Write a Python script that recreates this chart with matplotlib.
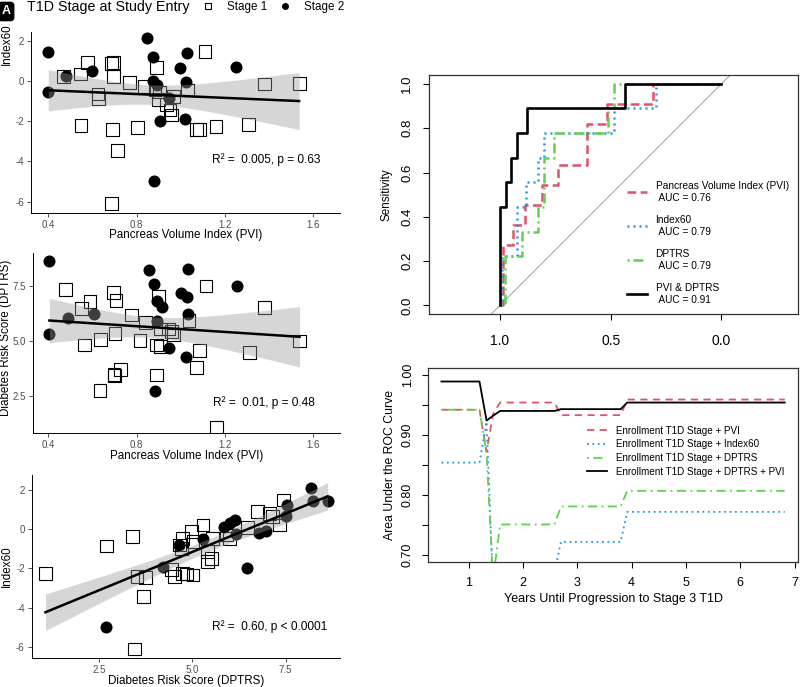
import numpy as np
import matplotlib
matplotlib.use('Agg')
import matplotlib.pyplot as plt
from matplotlib.lines import Line2D

plt.rcParams['font.family'] = ['Liberation Sans', 'DejaVu Sans']
plt.rcParams['axes.unicode_minus'] = False

# --- scatter panels: stage 1 = open squares, stage 2 = filled circles ---
# panel 1: PVI vs Index60
p1_sq_pvi = [0.468, 0.546, 0.578, 0.625, 0.628, 0.685, 0.695, 0.694, 0.767, 0.833, 0.891, 0.883,
             0.898, 0.936, 0.951, 0.958, 0.966, 1.031, 1.069, 1.084, 1.109, 1.159, 1.306, 1.377,
             1.535, 0.548, 0.690, 0.803, 0.712, 0.687, 0.905]
p1_sq_idx = [0.21, 0.35, 0.93, -0.65, -0.88, 0.85, 0.92, 0.21, -0.08, -0.28, 0.68, -0.45,
             -0.94, -1.19, -1.44, -1.69, -0.78, -0.45, -2.43, -2.43, 1.45, -2.26, -2.15, -0.15,
             -0.12, -2.21, -2.40, -2.30, -3.45, -6.10, -0.55]
p1_dot_pvi = [0.40, 0.40, 0.48, 0.60, 0.845, 0.875, 0.872, 0.89, 0.906, 0.945, 0.996, 1.026,
              1.022, 1.019, 1.25, 0.878]
p1_dot_idx = [1.45, -0.53, 0.26, 0.50, 2.12, 1.20, 0.02, -0.20, -1.97, -0.86, 0.63, 1.40,
              -0.07, -1.90, 0.71, -4.96]

# panel 2: PVI vs DPTRS
p2_sq_pvi = [0.477, 0.552, 0.589, 0.562, 0.634, 0.636, 0.694, 0.706, 0.702, 0.697, 0.725, 0.777,
             0.815, 0.840, 0.898, 0.906, 0.944, 0.959, 0.966, 0.890, 0.906, 0.890, 1.037, 1.084,
             1.072, 1.114, 1.162, 1.310, 1.378, 1.537, 0.700]
p2_sq_dptrs = [7.33, 6.47, 6.77, 4.80, 2.73, 5.06, 7.18, 6.82, 5.33, 3.48, 3.70, 6.17,
               5.00, 5.82, 7.00, 5.53, 5.53, 5.41, 5.26, 4.80, 4.73, 3.44, 5.91, 4.55,
               3.77, 7.48, 1.06, 4.45, 6.52, 4.98, 3.40]
p2_dot_pvi = [0.405, 0.405, 0.49, 0.608, 0.856, 0.879, 0.89, 0.913, 0.89, 0.946, 0.885, 1.00,
              1.026, 1.034, 1.03, 1.024, 1.253]
p2_dot_dptrs = [8.62, 5.30, 6.05, 6.20, 8.21, 7.56, 6.82, 6.52, 5.89, 4.68, 2.73, 7.15,
                6.97, 8.24, 6.21, 4.27, 7.48]

# panel 3: DPTRS vs Index60
p3_sq_dptrs = [1.07, 2.70, 3.40, 3.45, 3.52, 3.76, 3.70, 4.44, 4.53, 4.75, 4.84, 5.02,
               4.75, 4.71, 4.67, 4.98, 5.29, 5.02, 5.42, 5.51, 5.42, 5.91, 6.00, 6.49,
               6.76, 7.07, 7.16, 7.34, 7.45, 5.55]
p3_sq_idx = [-2.24, -0.85, -0.37, -6.11, -2.41, -2.44, -3.43, -2.07, -2.41, -2.24, -2.28, -2.33,
             -0.46, -0.97, -0.80, -0.12, 0.22, -0.63, -1.14, -1.48, -1.65, -0.29, -0.46, 0.10,
             0.90, 0.81, 0.65, 0.22, 1.49, -0.45]
p3_dot_dptrs = [8.19, 8.23, 8.63, 7.54, 7.50, 6.80, 6.98, 6.16, 6.00, 5.84, 6.18, 6.47,
                5.29, 4.64, 4.22, 2.70]
p3_dot_idx = [2.12, 1.44, 1.44, 1.24, 0.68, -0.17, -0.07, 0.48, 0.34, 0.10, -0.22, -1.97,
              -0.51, -0.81, -1.90, -4.96]

notes = ['R\u00b2 =  0.005, p = 0.63', 'R\u00b2 =  0.01, p = 0.48', 'R\u00b2 =  0.60, p < 0.0001']

# --- ROC curves (specificity, sensitivity) ---
roc_labels = ['Pancreas Volume Index (PVI)\n AUC = 0.76', 'Index60\n AUC = 0.79',
              'DPTRS\n AUC = 0.79', 'PVI & DPTRS\n AUC = 0.91']
pvi_spec = [1.0, 0.985, 0.985, 0.94, 0.94, 0.887, 0.887, 0.812, 0.812, 0.74, 0.74, 0.609, 0.609,
            0.516, 0.516, 0.311, 0.311, 0.0]
pvi_sens = [0.0, 0.0, 0.273, 0.273, 0.364, 0.364, 0.455, 0.455, 0.545, 0.545, 0.636, 0.636, 0.818,
            0.818, 0.909, 0.909, 1.0, 1.0]
idx_spec = [1.0, 0.99, 0.99, 0.925, 0.925, 0.88, 0.88, 0.827, 0.827, 0.80, 0.80, 0.486, 0.486,
            0.293, 0.293, 0.0]
idx_sens = [0.0, 0.0, 0.222, 0.222, 0.444, 0.444, 0.556, 0.556, 0.667, 0.667, 0.778, 0.778, 0.889,
            0.889, 1.0, 1.0]
dpt_spec = [1.0, 0.977, 0.977, 0.90, 0.90, 0.827, 0.827, 0.80, 0.80, 0.755, 0.755, 0.511, 0.511,
            0.486, 0.486, 0.0]
dpt_sens = [0.0, 0.0, 0.222, 0.222, 0.333, 0.333, 0.444, 0.444, 0.667, 0.667, 0.778, 0.778, 0.889,
            0.889, 1.0, 1.0]
both_spec = [1.0, 1.0, 0.974, 0.974, 0.95, 0.95, 0.925, 0.925, 0.877, 0.877, 0.436, 0.436, 0.0]
both_sens = [0.0, 0.444, 0.444, 0.556, 0.556, 0.667, 0.667, 0.778, 0.778, 0.889, 0.889, 1.0, 1.0]

# --- time-dependent AUC ---
years = [0.5, 1.2, 1.33, 1.45, 1.58, 2.58, 2.7, 3.8, 3.92, 6.82]
auc_pvi = [0.942, 0.942, 0.872, 0.935, 0.954, 0.954, 0.933, 0.933, 0.959, 0.959]
auc_idx = [0.854, 0.854, 0.922, 0.645, 0.660, 0.671, 0.722, 0.722, 0.772, 0.772]
auc_dpt = [0.942, 0.942, 0.870, 0.660, 0.751, 0.751, 0.781, 0.781, 0.807, 0.807]
auc_all = [0.989, 0.989, 0.924, 0.932, 0.940, 0.940, 0.943, 0.943, 0.954, 0.954]
auc_labels = ['Enrollment T1D Stage + PVI', 'Enrollment T1D Stage + Index60',
              'Enrollment T1D Stage + DPTRS', 'Enrollment T1D Stage + DPTRS + PVI']

RED, BLUE, GREEN = '#DF536B', '#2297E6', '#61D04F'

fig = plt.figure(figsize=(8, 6.87), dpi=100)


def scatter_panel(rect, sq_x, sq_y, dot_x, dot_y, xlim, ylim, xticks, yticks, xlab, ylab,
                  note, note_y, ylab_x, ylab_y=0.5):
    ax = fig.add_axes(rect)
    ax.scatter(sq_x, sq_y, marker='s', s=85, facecolors='none', edgecolors='black',
               linewidths=0.8, zorder=2)
    ax.scatter(dot_x, dot_y, marker='o', s=75, color='black', linewidths=0, zorder=2)
    x = np.r_[sq_x, dot_x]
    y = np.r_[sq_y, dot_y]
    slope, icpt = np.polyfit(x, y, 1)
    resid = y - (slope * x + icpt)
    s = np.sqrt(np.sum(resid ** 2) / (len(x) - 2))
    xs = np.linspace(x.min(), x.max(), 100)
    fit = slope * xs + icpt
    se = s * np.sqrt(1 / len(x) + (xs - x.mean()) ** 2 / np.sum((x - x.mean()) ** 2))
    ax.fill_between(xs, fit - 2.01 * se, fit + 2.01 * se, color='#999999', alpha=0.4, lw=0, zorder=3)
    ax.plot(xs, fit, color='black', lw=1.8, zorder=4)
    ax.set_xlim(xlim)
    ax.set_ylim(ylim)
    ax.set_xticks(xticks)
    ax.set_yticks(yticks)
    for sp in ['top', 'right']:
        ax.spines[sp].set_visible(False)
    for sp in ['left', 'bottom']:
        ax.spines[sp].set_linewidth(0.7)
    ax.tick_params(length=3, width=0.6, color='#333333', labelsize=7, labelcolor='#4D4D4D', pad=2)
    ax.set_xlabel(xlab, fontsize=8.4, labelpad=-0.5)
    ax.set_ylabel(ylab, fontsize=8.4)
    ax.yaxis.set_label_coords(ylab_x, ylab_y)
    ax.text(0.585, note_y, note, transform=ax.transAxes, fontsize=8.6, va='center')
    return ax


scatter_panel([0.03875, 0.6904, 0.38625, 0.2635], p1_sq_pvi, p1_sq_idx, p1_dot_pvi, p1_dot_idx,
              (0.322, 1.72), (-6.55, 2.45), [0.4, 0.8, 1.2, 1.6], [2, 0, -2, -4, -6],
              'Pancreas Volume Index (PVI)', 'Index60', notes[0], 0.291, -0.06, ylab_y=0.93)
ax2 = scatter_panel([0.0416, 0.3693, 0.3834, 0.262], p2_sq_pvi, p2_sq_dptrs, p2_dot_pvi, p2_dot_dptrs,
                    (0.332, 1.72), (0.79, 8.97), [0.4, 0.8, 1.2, 1.6], [2.5, 5.0, 7.5],
                    'Pancreas Volume Index (PVI)', 'Diabetes Risk Score (DPTRS)', notes[1], 0.17,
                    -0.068, ylab_y=0.53)
ax2.set_yticklabels(['2.5', '5.0', '7.5'])
ax3 = scatter_panel([0.0396, 0.0418, 0.3854, 0.2668], p3_sq_dptrs, p3_sq_idx, p3_dot_dptrs, p3_dot_idx,
                    (0.70, 8.96), (-6.58, 2.77), [2.5, 5.0, 7.5], [2, 0, -2, -4, -6],
                    'Diabetes Risk Score (DPTRS)', 'Index60', notes[2], 0.172, -0.06)
ax3.set_xticklabels(['2.5', '5.0', '7.5'])

# top legend and panel letter
fig.text(0.002, 0.992, 'A', color='white', fontsize=9, fontweight='bold', ha='left', va='top',
         bbox=dict(boxstyle='round,pad=0.25', fc='black', ec='black'))
fig.text(0.034, 0.9898, 'T1D Stage at Study Entry', fontsize=10.3, va='center')
stage_handles = [Line2D([], [], ls='', marker='s', ms=4.5, mfc='none', mec='black', mew=0.8),
                 Line2D([], [], ls='', marker='o', ms=4, mfc='black', mec='black')]
fig.legend(stage_handles, ['Stage 1', 'Stage 2'], ncol=2, loc='center left',
           bbox_to_anchor=(0.2528, 0.9898), frameon=False, fontsize=8.4, handlelength=1.0,
           handletextpad=1.13, columnspacing=1.04, borderpad=0, borderaxespad=0)

# --- ROC panel ---
axr = fig.add_axes([0.5366, 0.5425, 0.4609, 0.3483])
axr.plot([1.04, -0.04], [-0.04, 1.04], color='#AAAAAA', lw=0.8, zorder=1)
axr.plot(pvi_spec, pvi_sens, color=RED, lw=1.8, ls=(0, (3.5, 1.8)), label=roc_labels[0])
axr.plot(idx_spec, idx_sens, color=BLUE, lw=1.8, ls=(0, (0.8, 1.6)), label=roc_labels[1])
axr.plot(dpt_spec, dpt_sens, color=GREEN, lw=1.8, ls=(0, (0.8, 1.6, 4, 1.6)), label=roc_labels[2])
axr.plot(both_spec, both_sens, color='black', lw=1.9, label=roc_labels[3])
axr.set_xlim(1.319, -0.346)
axr.set_ylim(-0.04, 1.04)
axr.set_xticks([1.0, 0.5, 0.0])
axr.set_xticklabels(['1.0', '0.5', '0.0'])
axr.set_yticks([0.0, 0.2, 0.4, 0.6, 0.8, 1.0])
axr.set_yticklabels(['0.0', '0.2', '0.4', '0.6', '0.8', '1.0'], rotation=90, va='center')
axr.tick_params(axis='x', length=4.5, width=0.8, labelsize=10, pad=10)
axr.tick_params(axis='y', length=4.5, width=0.8, labelsize=9.5, pad=7)
for sp in axr.spines.values():
    sp.set_linewidth(0.9)
    sp.set_color('#333333')
axr.set_ylabel('Sensitivity', fontsize=8.4)
axr.yaxis.set_label_coords(-0.1, 0.5)
axr.legend(loc='upper left', bbox_to_anchor=(0.784, 0.7365), bbox_transform=fig.transFigure,
           frameon=False, fontsize=7.3, handlelength=2.0, handletextpad=0.8, labelspacing=1.22,
           borderpad=0, borderaxespad=0)

# --- AUC over time panel ---
axa = fig.add_axes([0.5354, 0.1815, 0.4625, 0.2824])
axa.plot(years, auc_pvi, color=RED, lw=1.3, ls=(0, (4, 3)), label=auc_labels[0])
axa.plot(years, auc_idx, color=BLUE, lw=1.3, ls=(0, (1, 2)), label=auc_labels[1])
axa.plot(years, auc_dpt, color=GREEN, lw=1.3, ls=(0, (1, 2.5, 5, 2.5)), label=auc_labels[2])
axa.plot(years, auc_all, color='black', lw=1.3, label=auc_labels[3])
axa.set_xlim(0.258, 7.07)
axa.set_ylim(0.688, 1.011)
axa.set_xticks([1, 2, 3, 4, 5, 6, 7])
axa.set_yticks([0.70, 0.80, 0.90, 1.00])
axa.set_yticklabels(['0.70', '0.80', '0.90', '1.00'], rotation=90, va='center')
axa.set_yticks([0.75, 0.85, 0.95], minor=True)
axa.tick_params(which='both', length=4.5, width=0.8, labelsize=9, pad=6)
for sp in axa.spines.values():
    sp.set_linewidth(0.9)
    sp.set_color('#333333')
axa.set_xlabel('Years Until Progression to Stage 3 T1D', fontsize=9, labelpad=3)
axa.set_ylabel('Area Under the ROC Curve', fontsize=8.8)
axa.yaxis.set_label_coords(-0.087, 0.5)
axa.legend(loc='upper left', bbox_to_anchor=(0.734, 0.3800), bbox_transform=fig.transFigure,
           frameon=False, fontsize=7.1, handlelength=2.0, handletextpad=0.9, labelspacing=0.36,
           borderpad=0, borderaxespad=0)

fig.savefig('out.png', dpi=100)
